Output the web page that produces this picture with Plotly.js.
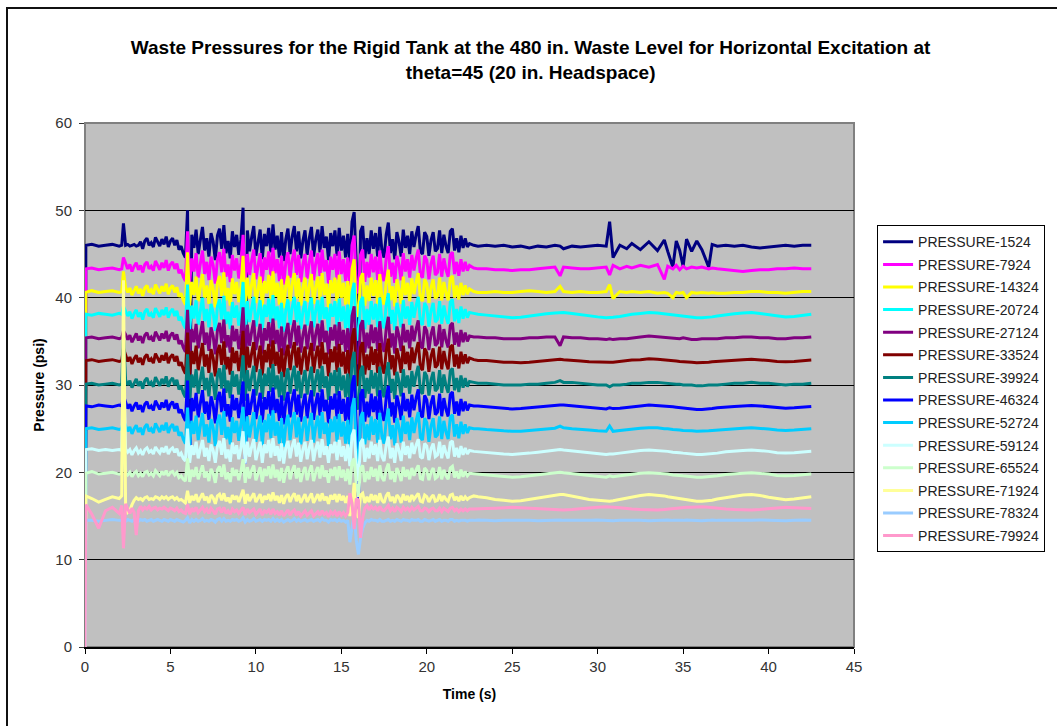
<!DOCTYPE html>
<html>
<head>
<meta charset="utf-8">
<script src="https://cdn.plot.ly/plotly-3.0.1.min.js"></script>
<style>
html,body{margin:0;padding:0;background:#fff;}
#wrap{position:relative;width:1057px;height:726px;overflow:hidden;}
#chart{position:absolute;left:0;top:0;width:1057px;height:726px;}
#frame{position:absolute;left:6px;top:7px;width:1070px;height:740px;border-left:2px solid #111;border-top:2px solid #111;pointer-events:none;}
</style>
</head>
<body>
<div id="wrap"><div id="chart"></div><div id="frame"></div></div>
<script>
// Time (s)
const time = [
0, 0.05, 0.4, 0.8, 1.2, 1.6, 2.0, 2.15,
2.25, 2.375, 2.5, 2.625, 2.75, 2.875, 3, 3.125, 3.25, 3.375,
3.5, 3.625, 3.75, 3.875, 4, 4.125, 4.25, 4.375, 4.5, 4.625,
4.75, 4.875, 5, 5.125, 5.25, 5.375, 5.5, 5.625, 5.75, 5.875,
6, 6.125, 6.25, 6.375, 6.5, 6.625, 6.75, 6.875, 7, 7.125,
7.25, 7.375, 7.5, 7.625, 7.75, 7.875, 8, 8.125, 8.25, 8.375,
8.5, 8.625, 8.75, 8.875, 9, 9.125, 9.25, 9.375, 9.5, 9.625,
9.75, 9.875, 10, 10.125, 10.25, 10.375, 10.5, 10.625, 10.75, 10.875,
11, 11.125, 11.25, 11.375, 11.5, 11.625, 11.75, 11.875, 12, 12.125,
12.25, 12.375, 12.5, 12.625, 12.75, 12.875, 13, 13.125, 13.25, 13.375,
13.5, 13.625, 13.75, 13.875, 14, 14.125, 14.25, 14.375, 14.5, 14.625,
14.75, 14.875, 15, 15.125, 15.25, 15.375, 15.5, 15.625, 15.75, 15.875,
16, 16.125, 16.25, 16.375, 16.5, 16.625, 16.75, 16.875, 17, 17.125,
17.25, 17.375, 17.5, 17.625, 17.75, 17.875, 18, 18.125, 18.25, 18.375,
18.5, 18.625, 18.75, 18.875, 19, 19.125, 19.25, 19.375, 19.5, 19.625,
19.75, 19.875, 20, 20.125, 20.25, 20.375, 20.5, 20.625, 20.75, 20.875,
21, 21.125, 21.25, 21.375, 21.5, 21.625, 21.75, 21.875, 22, 22.125,
22.25, 22.375, 22.5,
22.75, 23, 23.5, 24, 24.5, 25, 25.5, 26, 26.5, 27,
27.5, 27.8, 28, 28.5, 29, 29.5, 30, 30.5, 30.7, 30.9,
31.3, 31.7, 32, 32.5, 33, 33.5, 33.9, 34.1, 34.4, 34.6,
34.8, 35, 35.2, 35.5, 35.8, 36.1, 36.5, 36.7, 37, 37.5,
38, 38.5, 39, 39.5, 40, 40.5, 41, 41.5, 42, 42.5
];

const p1524 = [
0, 46.0, 46.1, 45.9, 46.0, 46.1, 45.9, 46.0,
48.5, 46.0, 46.1, 45.9, 46.0, 46.1, 45.9, 46.0, 46.4, 45.6,
46.5, 46.8, 46.0, 46.3, 45.8, 46.9, 46.4, 45.9, 46.7, 46.1,
47.0, 45.8, 46.5, 46.8, 46.0, 46.6, 45.5, 45.9, 45.1, 44.6,
50.0, 27.0, 47.2, 45.7, 47.8, 45.0, 46.6, 48.1, 45.4, 46.8,
44.7, 47.4, 46.4, 44.3, 47.1, 47.9, 45.6, 48.3, 45.1, 46.5,
44.5, 47.6, 45.8, 47.2, 44.9, 46.7, 50.3, 28.5, 47.7, 45.3,
46.9, 48.2, 44.8, 46.4, 47.8, 44.4, 47.3, 45.9, 48.0, 45.2,
48.4, 45.5, 47.1, 44.6, 47.5, 44.2, 46.7, 47.9, 45.0, 47.0,
48.2, 45.3, 47.6, 44.5, 46.5, 47.7, 44.9, 46.8, 48.1, 44.7,
46.6, 47.8, 45.2, 48.2, 45.7, 47.0, 44.3, 47.4, 45.9, 47.7,
44.8, 48.0, 45.4, 47.1, 44.6, 47.3, 43.8, 48.7, 49.8, 44.0,
30.0, 47.6, 48.2, 44.5, 46.8, 45.0, 47.7, 45.6, 47.4, 44.7,
48.1, 45.4, 44.6, 47.2, 48.6, 45.1, 46.7, 44.4, 47.5, 46.4,
44.7, 47.8, 45.7, 47.1, 45.0, 47.6, 45.8, 47.2, 48.2, 45.3,
45.0, 47.5, 47.0, 44.8, 46.6, 47.5, 45.3, 45.6, 47.7, 45.1,
47.2, 45.9, 45.1, 47.6, 47.9, 45.4, 46.8, 45.2, 47.1, 45.7,
46.8, 45.8, 46.2,
46.0, 45.9, 46.0, 45.9, 46.0, 45.8, 45.9, 45.7, 45.9, 45.8,
46.0, 45.9, 45.6, 45.9, 45.8, 45.9, 46.0, 45.9, 48.7, 44.6,
46.0, 45.6, 46.2, 45.5, 46.4, 45.4, 46.6, 45.3, 43.5, 46.5,
45.4, 43.6, 46.7, 45.3, 46.5, 45.5, 43.5, 46.1, 45.9, 46.0,
45.9, 46.0, 45.8, 45.7, 45.8, 45.9, 46.0, 45.9, 46.0, 46.0
];

const p7924 = [
0, 43.3, 43.4, 43.2, 43.3, 43.4, 43.2, 43.3,
44.6, 43.9, 43.3, 43.8, 43.0, 43.6, 44.0, 43.2, 43.7, 42.9,
43.8, 44.1, 43.3, 43.6, 43.1, 44.2, 43.7, 43.2, 44.0, 43.4,
44.3, 43.1, 43.8, 44.1, 43.3, 43.9, 42.8, 43.2, 42.4, 41.9,
47.6, 41.7, 44.5, 43.0, 45.1, 42.3, 43.9, 45.4, 42.7, 44.1,
42.0, 44.7, 43.7, 41.6, 44.4, 45.2, 42.9, 45.6, 42.4, 43.8,
41.8, 44.9, 43.1, 44.5, 42.2, 44.0, 47.2, 41.5, 45.0, 42.6,
44.2, 45.5, 42.1, 43.7, 45.1, 41.7, 44.6, 43.2, 45.3, 42.5,
45.7, 42.8, 44.4, 41.9, 44.8, 41.5, 44.0, 45.2, 42.3, 44.3,
45.5, 42.6, 44.9, 41.8, 43.8, 45.0, 42.2, 44.1, 45.4, 42.0,
43.9, 45.1, 42.5, 45.5, 43.0, 44.3, 41.6, 44.7, 43.2, 45.0,
42.1, 45.3, 42.7, 44.4, 41.9, 44.6, 41.1, 46.0, 47.1, 41.3,
40.5, 44.9, 45.5, 41.8, 44.1, 42.3, 45.0, 42.9, 44.7, 42.0,
45.4, 42.7, 41.9, 44.5, 45.9, 42.4, 44.0, 41.7, 44.8, 43.7,
42.0, 45.1, 43.0, 44.4, 42.3, 44.9, 43.1, 44.5, 45.5, 42.6,
42.3, 44.8, 44.3, 42.1, 43.9, 44.8, 42.6, 42.9, 45.0, 42.4,
44.5, 43.2, 42.4, 44.9, 45.2, 42.7, 44.1, 42.5, 44.4, 43.0,
44.1, 43.1, 43.7,
43.4, 43.3, 43.3, 43.2, 43.2, 43.1, 43.2, 43.2, 43.3, 43.4,
43.5, 42.5, 43.5, 43.4, 43.3, 43.3, 43.4, 43.5, 42.6, 43.7,
43.3, 43.6, 43.4, 43.7, 43.5, 43.8, 42.1, 43.6, 43.3, 43.7,
43.2, 43.6, 43.3, 43.5, 43.4, 43.5, 43.3, 43.4, 43.3, 43.2,
43.1, 43.0, 43.1, 43.2, 43.2, 43.3, 43.3, 43.4, 43.3, 43.3
];

const p14324 = [
0, 40.6, 40.8, 40.6, 40.7, 40.8, 40.6, 40.7,
43.0, 41.2, 40.6, 41.1, 40.3, 40.9, 41.3, 40.5, 41.0, 40.2,
41.1, 41.4, 40.6, 40.9, 40.4, 41.5, 41.0, 40.5, 41.3, 40.7,
41.6, 40.4, 41.1, 41.4, 40.6, 41.2, 40.1, 40.5, 39.7, 39.2,
45.2, 39.0, 41.8, 40.3, 42.4, 39.6, 41.2, 42.7, 40.0, 41.4,
39.3, 42.0, 41.0, 38.9, 41.7, 42.5, 40.2, 42.9, 39.7, 41.1,
39.1, 42.2, 40.4, 41.8, 39.5, 41.3, 44.8, 38.8, 42.3, 39.9,
41.5, 42.8, 39.4, 41.0, 42.4, 39.0, 41.9, 40.5, 42.6, 39.8,
43.0, 40.1, 41.7, 39.2, 42.1, 38.8, 41.3, 42.5, 39.6, 41.6,
42.8, 39.9, 42.2, 39.1, 41.1, 42.3, 39.5, 41.4, 42.7, 39.3,
41.2, 42.4, 39.8, 42.8, 40.3, 41.6, 38.9, 42.0, 40.5, 42.3,
39.4, 42.6, 40.0, 41.7, 39.2, 41.9, 38.4, 43.3, 44.4, 38.6,
37.8, 42.2, 42.8, 39.1, 41.4, 39.6, 42.3, 40.2, 42.0, 39.3,
42.7, 40.0, 39.2, 41.8, 43.2, 39.7, 41.3, 39.0, 42.1, 41.0,
39.3, 42.4, 40.3, 41.7, 39.6, 42.2, 40.4, 41.8, 42.8, 39.9,
39.6, 42.1, 41.6, 39.4, 41.2, 42.1, 39.9, 40.2, 42.3, 39.7,
41.8, 40.5, 39.7, 42.2, 42.5, 40.0, 41.4, 39.8, 41.7, 40.3,
41.4, 40.4, 41.0,
40.7, 40.6, 40.6, 40.7, 40.6, 40.6, 40.7, 40.8, 40.7, 40.6,
40.7, 41.3, 40.7, 40.6, 40.7, 40.6, 40.6, 40.7, 41.5, 39.9,
40.7, 40.6, 40.7, 40.6, 40.7, 40.5, 40.6, 40.5, 40.0, 40.6,
40.5, 40.6, 40.0, 40.6, 40.5, 40.6, 40.5, 40.6, 40.5, 40.5,
40.6, 40.6, 40.7, 40.7, 40.6, 40.6, 40.5, 40.6, 40.7, 40.7
];

const p20724 = [
0, 38.1, 38.0, 38.2, 38.1, 38.0, 38.2, 38.1,
39.0, 38.5, 37.9, 38.4, 37.6, 38.2, 38.6, 37.8, 38.3, 37.5,
38.4, 38.7, 37.9, 38.2, 37.7, 38.8, 38.3, 37.8, 38.6, 38.0,
38.9, 37.7, 38.4, 38.7, 37.9, 38.5, 37.4, 37.8, 37.0, 36.5,
41.5, 36.3, 39.1, 37.6, 39.7, 36.9, 38.5, 40.0, 37.3, 38.7,
36.6, 39.3, 38.3, 36.2, 39.0, 39.8, 37.5, 40.2, 37.0, 38.4,
36.4, 39.5, 37.7, 39.1, 36.8, 38.6, 41.8, 36.1, 39.6, 37.2,
38.8, 40.1, 36.7, 38.3, 39.7, 36.3, 39.2, 37.8, 39.9, 37.1,
40.3, 37.4, 39.0, 36.5, 39.4, 36.1, 38.6, 39.8, 36.9, 38.9,
40.1, 37.2, 39.5, 36.4, 38.4, 39.6, 36.8, 38.7, 40.0, 36.6,
38.5, 39.7, 37.1, 40.1, 37.6, 38.9, 36.2, 39.3, 37.8, 39.6,
36.7, 39.9, 37.3, 39.0, 36.5, 39.2, 35.7, 40.6, 41.7, 35.9,
35.1, 39.5, 40.1, 36.4, 38.7, 36.9, 39.6, 37.5, 39.3, 36.6,
40.0, 37.3, 36.5, 39.1, 40.5, 37.0, 38.6, 36.3, 39.4, 38.3,
36.6, 39.7, 37.6, 39.0, 36.9, 39.5, 37.7, 39.1, 40.1, 37.2,
36.9, 39.4, 38.9, 36.7, 38.5, 39.4, 37.2, 37.5, 39.6, 37.0,
39.1, 37.8, 37.0, 39.5, 39.8, 37.3, 38.7, 37.1, 39.0, 37.6,
38.7, 37.7, 38.3,
38.2, 38.1, 38.0, 37.9, 37.8, 37.7, 37.75, 37.9, 38.05, 38.15,
38.25, 38.3, 38.3, 38.2, 38.05, 37.9, 37.8, 37.7, 37.7, 37.75,
37.85, 38.0, 38.1, 38.2, 38.3, 38.25, 38.15, 38.1, 38.0, 37.95,
37.9, 37.85, 37.8, 37.75, 37.7, 37.7, 37.75, 37.8, 37.9, 38.05,
38.15, 38.25, 38.3, 38.2, 38.05, 37.9, 37.8, 37.85, 38.0, 38.1
];

const p27124 = [
0, 35.4, 35.5, 35.3, 35.4, 35.5, 35.3, 35.4,
36.2, 35.8, 35.2, 35.7, 34.9, 35.5, 35.9, 35.1, 35.6, 34.8,
35.7, 36.0, 35.2, 35.5, 35.0, 36.1, 35.6, 35.1, 35.9, 35.3,
36.2, 35.0, 35.7, 36.0, 35.2, 35.8, 34.7, 35.1, 34.3, 33.8,
38.6, 33.6, 36.4, 34.9, 37.0, 34.2, 35.8, 37.3, 34.6, 36.0,
33.9, 36.6, 35.6, 33.5, 36.3, 37.1, 34.8, 37.5, 34.3, 35.7,
33.7, 36.8, 35.0, 36.4, 34.1, 35.9, 38.9, 33.4, 36.9, 34.5,
36.1, 37.4, 34.0, 35.6, 37.0, 33.6, 36.5, 35.1, 37.2, 34.4,
37.6, 34.7, 36.3, 33.8, 36.7, 33.4, 35.9, 37.1, 34.2, 36.2,
37.4, 34.5, 36.8, 33.7, 35.7, 36.9, 34.1, 36.0, 37.3, 33.9,
35.8, 37.0, 34.4, 37.4, 34.9, 36.2, 33.5, 36.6, 35.1, 36.9,
34.0, 37.2, 34.6, 36.3, 33.8, 36.5, 33.0, 37.9, 39.0, 33.2,
32.4, 36.8, 37.4, 33.7, 36.0, 34.2, 36.9, 34.8, 36.6, 33.9,
37.3, 34.6, 33.8, 36.4, 37.8, 34.3, 35.9, 33.6, 36.7, 35.6,
33.9, 37.0, 34.9, 36.3, 34.2, 36.8, 35.0, 36.4, 37.4, 34.5,
34.2, 36.7, 36.2, 34.0, 35.8, 36.7, 34.5, 34.8, 36.9, 34.3,
36.4, 35.1, 34.3, 36.8, 37.1, 34.6, 36.0, 34.4, 36.3, 34.9,
36.0, 35.0, 35.6,
35.5, 35.5, 35.4, 35.4, 35.3, 35.3, 35.3, 35.4, 35.4, 35.5,
35.5, 34.5, 35.5, 35.4, 35.4, 35.3, 35.3, 35.2, 35.3, 35.2,
35.3, 35.3, 35.4, 35.5, 35.6, 35.5, 35.5, 35.4, 35.4, 35.3,
35.3, 35.4, 35.3, 35.2, 35.2, 35.3, 35.3, 35.3, 35.3, 35.4,
35.4, 35.5, 35.5, 35.4, 35.4, 35.3, 35.3, 35.4, 35.4, 35.5
];

const p33524 = [
0, 32.8, 32.9, 32.7, 32.8, 32.9, 32.7, 32.8,
34.2, 33.3, 32.7, 33.2, 32.4, 33.0, 33.4, 32.6, 33.1, 32.3,
33.2, 33.5, 32.7, 33.0, 32.5, 33.6, 33.1, 32.6, 33.4, 32.8,
33.7, 32.5, 33.2, 33.5, 32.7, 33.3, 32.2, 32.6, 31.8, 31.3,
36.0, 31.1, 33.9, 32.4, 34.5, 31.7, 33.3, 34.8, 32.1, 33.5,
31.4, 34.1, 33.1, 31.0, 33.8, 34.6, 32.3, 35.0, 31.8, 33.2,
31.2, 34.3, 32.5, 33.9, 31.6, 33.4, 36.2, 30.9, 34.4, 32.0,
33.6, 34.9, 31.5, 33.1, 34.5, 31.1, 34.0, 32.6, 34.7, 31.9,
35.1, 32.2, 33.8, 31.3, 34.2, 30.9, 33.4, 34.6, 31.7, 33.7,
34.9, 32.0, 34.3, 31.2, 33.2, 34.4, 31.6, 33.5, 34.8, 31.4,
33.3, 34.5, 31.9, 34.9, 32.4, 33.7, 31.0, 34.1, 32.6, 34.4,
31.5, 34.7, 32.1, 33.8, 31.3, 34.0, 30.5, 35.4, 36.5, 30.7,
29.9, 34.3, 34.9, 31.2, 33.5, 31.7, 34.4, 32.3, 34.1, 31.4,
34.8, 32.1, 31.3, 33.9, 35.3, 31.8, 33.4, 31.1, 34.2, 33.1,
31.4, 34.5, 32.4, 33.8, 31.7, 34.3, 32.5, 33.9, 34.9, 32.0,
31.7, 34.2, 33.7, 31.5, 33.3, 34.2, 32.0, 32.3, 34.4, 31.8,
33.9, 32.6, 31.8, 34.3, 34.6, 32.1, 33.5, 31.9, 33.8, 32.4,
33.5, 32.5, 33.1,
32.9, 32.8, 32.8, 32.7, 32.6, 32.6, 32.55, 32.6, 32.7, 32.8,
32.9, 32.95, 32.9, 32.85, 32.75, 32.65, 32.6, 32.55, 32.6, 32.6,
32.7, 32.8, 32.85, 32.9, 33.0, 32.95, 32.9, 32.85, 32.8, 32.75,
32.7, 32.65, 32.6, 32.6, 32.55, 32.55, 32.6, 32.65, 32.7, 32.8,
32.85, 32.9, 32.95, 32.9, 32.8, 32.7, 32.65, 32.7, 32.8, 32.85
];

const p39924 = [
0, 30.1, 30.2, 30.0, 30.1, 30.2, 30.0, 30.1,
35.8, 30.6, 30.0, 30.5, 29.7, 30.3, 30.7, 29.9, 30.4, 29.6,
30.5, 30.8, 30.0, 30.3, 29.8, 30.9, 30.4, 29.9, 30.7, 30.1,
31.0, 29.8, 30.5, 30.8, 30.0, 30.6, 29.5, 29.9, 29.1, 28.6,
33.5, 28.4, 31.2, 29.7, 31.8, 29.0, 30.6, 32.1, 29.4, 30.8,
28.7, 31.4, 30.4, 28.3, 31.1, 31.9, 29.6, 32.3, 29.1, 30.5,
28.5, 31.6, 29.8, 31.2, 28.9, 30.7, 33.4, 28.2, 31.7, 29.3,
30.9, 32.2, 28.8, 30.4, 31.8, 28.4, 31.3, 29.9, 32.0, 29.2,
32.4, 29.5, 31.1, 28.6, 31.5, 28.2, 30.7, 31.9, 29.0, 31.0,
32.2, 29.3, 31.6, 28.5, 30.5, 31.7, 28.9, 30.8, 32.1, 28.7,
30.6, 31.8, 29.2, 32.2, 29.7, 31.0, 28.3, 31.4, 29.9, 31.7,
28.8, 32.0, 29.4, 31.1, 28.6, 31.3, 27.8, 32.7, 33.8, 28.0,
27.2, 31.6, 32.2, 28.5, 30.8, 29.0, 31.7, 29.6, 31.4, 28.7,
32.1, 29.4, 28.6, 31.2, 32.6, 29.1, 30.7, 28.4, 31.5, 30.4,
28.7, 31.8, 29.7, 31.1, 29.0, 31.6, 29.8, 31.2, 32.2, 29.3,
29.0, 31.5, 31.0, 28.8, 30.6, 31.5, 29.3, 29.6, 31.7, 29.1,
31.2, 29.9, 29.1, 31.6, 31.9, 29.4, 30.8, 29.2, 31.1, 29.7,
30.8, 29.8, 30.4,
30.3, 30.2, 30.2, 30.1, 30.0, 30.0, 30.0, 30.1, 30.1, 30.2,
30.3, 30.5, 30.3, 30.3, 30.2, 30.1, 30.0, 30.0, 29.8, 30.0,
30.0, 30.1, 30.2, 30.2, 30.3, 30.3, 30.2, 30.2, 30.1, 30.1,
30.1, 30.0, 30.0, 30.0, 29.9, 29.9, 30.0, 30.0, 30.0, 30.1,
30.2, 30.2, 30.3, 30.2, 30.2, 30.1, 30.0, 30.1, 30.1, 30.2
];

const p46324 = [
0, 27.6, 27.5, 27.7, 27.6, 27.5, 27.7, 27.6,
28.8, 27.9, 27.3, 27.8, 27.0, 27.6, 28.0, 27.2, 27.7, 26.9,
27.8, 28.1, 27.3, 27.6, 27.1, 28.2, 27.7, 27.2, 28.0, 27.4,
28.3, 27.1, 27.8, 28.1, 27.3, 27.9, 26.8, 27.2, 26.4, 25.9,
30.5, 22.0, 28.5, 27.0, 29.1, 26.3, 27.9, 29.4, 26.7, 28.1,
26.0, 28.7, 27.7, 25.6, 28.4, 29.2, 26.9, 29.6, 26.4, 27.8,
25.8, 28.9, 27.1, 28.5, 26.2, 28.0, 30.4, 21.0, 29.0, 26.6,
28.2, 29.5, 26.1, 27.7, 29.1, 25.7, 28.6, 27.2, 29.3, 26.5,
29.7, 26.8, 28.4, 25.9, 28.8, 25.5, 28.0, 29.2, 26.3, 28.3,
29.5, 26.6, 28.9, 25.8, 27.8, 29.0, 26.2, 28.1, 29.4, 26.0,
27.9, 29.1, 26.5, 29.5, 27.0, 28.3, 25.6, 28.7, 27.2, 29.0,
26.1, 29.3, 26.7, 28.4, 25.9, 28.6, 25.1, 30.0, 31.1, 25.3,
15.5, 28.9, 29.5, 25.8, 28.1, 26.3, 29.0, 26.9, 28.7, 26.0,
29.4, 26.7, 25.9, 28.5, 29.9, 26.4, 28.0, 25.7, 28.8, 27.7,
26.0, 29.1, 27.0, 28.4, 26.3, 28.9, 27.1, 28.5, 29.5, 26.6,
26.3, 28.8, 28.3, 26.1, 27.9, 28.8, 26.6, 26.9, 29.0, 26.4,
28.5, 27.2, 26.4, 28.9, 29.2, 26.7, 28.1, 26.5, 28.4, 27.0,
28.1, 27.1, 27.7,
27.6, 27.6, 27.5, 27.4, 27.3, 27.25, 27.3, 27.4, 27.5, 27.6,
27.65, 27.7, 27.7, 27.6, 27.5, 27.4, 27.3, 27.25, 27.4, 27.3,
27.35, 27.45, 27.55, 27.6, 27.7, 27.65, 27.6, 27.55, 27.5, 27.45,
27.4, 27.35, 27.3, 27.25, 27.2, 27.2, 27.25, 27.3, 27.4, 27.5,
27.55, 27.6, 27.65, 27.6, 27.5, 27.4, 27.35, 27.4, 27.5, 27.55
];

const p52724 = [
0, 25.0, 25.1, 24.9, 25.0, 25.1, 24.9, 25.0,
26.0, 25.3, 24.7, 25.2, 24.4, 25.0, 25.4, 24.6, 25.1, 24.3,
25.2, 25.5, 24.7, 25.0, 24.5, 25.6, 25.1, 24.6, 25.4, 24.8,
25.7, 24.5, 25.2, 25.5, 24.7, 25.3, 24.2, 24.6, 23.8, 23.3,
27.4, 23.1, 25.9, 24.4, 26.5, 23.7, 25.3, 26.8, 24.1, 25.5,
23.4, 26.1, 25.1, 23.0, 25.8, 26.6, 24.3, 27.0, 23.8, 25.2,
23.2, 26.3, 24.5, 25.9, 23.6, 25.4, 27.5, 22.9, 26.4, 24.0,
25.6, 26.9, 23.5, 25.1, 26.5, 23.1, 26.0, 24.6, 26.7, 23.9,
27.1, 24.2, 25.8, 23.3, 26.2, 22.9, 25.4, 26.6, 23.7, 25.7,
26.9, 24.0, 26.3, 23.2, 25.2, 26.4, 23.6, 25.5, 26.8, 23.4,
25.3, 26.5, 23.9, 26.9, 24.4, 25.7, 23.0, 26.1, 24.6, 26.4,
23.5, 26.7, 24.1, 25.8, 23.3, 26.0, 22.5, 27.4, 28.5, 22.7,
19.5, 26.3, 26.9, 23.2, 25.5, 23.7, 26.4, 24.3, 26.1, 23.4,
26.8, 24.1, 23.3, 25.9, 27.3, 23.8, 25.4, 23.1, 26.2, 25.1,
23.4, 26.5, 24.4, 25.8, 23.7, 26.3, 24.5, 25.9, 26.9, 24.0,
23.7, 26.2, 25.7, 23.5, 25.3, 26.2, 24.0, 24.3, 26.4, 23.8,
25.9, 24.6, 23.8, 26.3, 26.6, 24.1, 25.5, 23.9, 25.8, 24.4,
25.5, 24.5, 25.1,
25.0, 25.0, 24.9, 24.8, 24.75, 24.7, 24.7, 24.8, 24.9, 25.0,
25.05, 25.3, 25.1, 25.0, 24.95, 24.85, 24.75, 24.7, 25.3, 24.7,
24.8, 24.9, 24.95, 25.05, 25.1, 25.1, 25.0, 25.0, 24.9, 24.9,
24.85, 24.8, 24.8, 24.75, 24.7, 24.7, 24.75, 24.8, 24.85, 24.95,
25.0, 25.05, 25.1, 25.05, 24.95, 24.85, 24.8, 24.85, 24.9, 25.0
];

const p59124 = [
0, 22.6, 22.7, 22.5, 22.6, 22.5, 22.6, 22.5,
33.0, 22.7, 22.3, 22.6, 22.0, 22.5, 22.8, 22.2, 22.5, 22.0,
22.6, 22.8, 22.3, 22.5, 22.1, 22.9, 22.5, 22.2, 22.8, 22.3,
23.0, 22.1, 22.6, 22.8, 22.3, 22.7, 21.9, 22.2, 21.6, 21.3,
25.0, 21.1, 23.1, 22.0, 23.5, 21.6, 22.7, 23.7, 21.8, 22.8,
21.3, 23.2, 22.5, 21.1, 23.0, 23.6, 22.0, 23.9, 21.6, 22.6,
21.2, 23.4, 22.1, 23.1, 21.5, 22.8, 24.7, 21.0, 23.5, 21.8,
22.9, 23.8, 21.4, 22.5, 23.5, 21.1, 23.2, 22.2, 23.7, 21.7,
23.9, 21.9, 23.0, 21.3, 23.3, 21.0, 22.8, 23.6, 21.6, 23.0,
23.8, 21.8, 23.4, 21.2, 22.6, 23.5, 21.5, 22.8, 23.7, 21.3,
22.7, 23.5, 21.7, 23.8, 22.0, 23.0, 21.1, 23.2, 22.2, 23.5,
21.4, 23.7, 21.8, 23.0, 21.3, 23.2, 20.7, 24.2, 24.9, 20.9,
19.0, 23.4, 23.8, 21.2, 22.8, 21.6, 23.5, 22.0, 23.2, 21.3,
23.7, 21.8, 21.3, 23.1, 24.1, 21.6, 22.8, 21.1, 23.3, 22.5,
21.3, 23.5, 22.0, 23.0, 21.6, 23.4, 22.1, 23.1, 23.8, 21.8,
21.6, 23.3, 23.0, 21.4, 22.7, 23.3, 21.8, 22.0, 23.5, 21.6,
23.1, 22.2, 21.6, 23.4, 23.6, 21.8, 22.8, 21.7, 23.0, 22.0,
22.8, 22.1, 22.5,
22.4, 22.35, 22.3, 22.2, 22.1, 22.05, 22.1, 22.2, 22.3, 22.4,
22.5, 22.6, 22.55, 22.45, 22.3, 22.2, 22.1, 22.05, 22.1, 22.1,
22.2, 22.3, 22.4, 22.5, 22.55, 22.5, 22.45, 22.4, 22.3, 22.3,
22.25, 22.2, 22.15, 22.1, 22.05, 22.05, 22.1, 22.15, 22.2, 22.35,
22.45, 22.5, 22.55, 22.5, 22.4, 22.25, 22.2, 22.25, 22.35, 22.4
];

const p65524 = [
0, 19.9, 20.1, 19.8, 19.9, 20.0, 19.8, 19.9,
25.5, 20.0, 19.7, 20.0, 19.5, 19.9, 20.1, 19.6, 19.9, 19.5,
20.0, 20.1, 19.7, 19.9, 19.6, 20.2, 19.9, 19.6, 20.1, 19.7,
20.2, 19.6, 20.0, 20.1, 19.7, 20.0, 19.4, 19.6, 19.2, 19.0,
21.6, 18.9, 20.3, 19.5, 20.6, 19.2, 20.0, 20.8, 19.4, 20.1,
19.0, 20.4, 19.9, 18.8, 20.3, 20.7, 19.5, 20.9, 19.2, 20.0,
18.9, 20.5, 19.6, 20.3, 19.1, 20.1, 21.5, 18.8, 20.6, 19.3,
20.2, 20.8, 19.1, 19.9, 20.6, 18.9, 20.4, 19.6, 20.7, 19.3,
20.9, 19.4, 20.3, 19.0, 20.5, 18.8, 20.1, 20.7, 19.2, 20.2,
20.8, 19.3, 20.5, 18.9, 20.0, 20.6, 19.1, 20.1, 20.8, 19.0,
20.0, 20.6, 19.3, 20.8, 19.5, 20.2, 18.8, 20.4, 19.6, 20.6,
19.1, 20.7, 19.4, 20.3, 19.0, 20.4, 18.6, 21.1, 21.6, 18.7,
17.2, 20.5, 20.8, 18.9, 20.1, 19.2, 20.6, 19.5, 20.4, 19.0,
20.8, 19.4, 19.0, 20.3, 21.0, 19.2, 20.1, 18.9, 20.5, 19.9,
19.0, 20.6, 19.5, 20.3, 19.2, 20.5, 19.6, 20.3, 20.8, 19.3,
19.2, 20.5, 20.2, 19.1, 20.0, 20.5, 19.3, 19.5, 20.6, 19.2,
20.3, 19.6, 19.2, 20.5, 20.7, 19.4, 20.1, 19.3, 20.3, 19.5,
20.1, 19.6, 19.9,
19.85, 19.8, 19.7, 19.6, 19.5, 19.45, 19.5, 19.6, 19.7, 19.8,
19.9, 20.0, 19.95, 19.85, 19.7, 19.6, 19.5, 19.45, 19.6, 19.5,
19.6, 19.7, 19.8, 19.9, 19.95, 19.9, 19.85, 19.8, 19.7, 19.7,
19.65, 19.6, 19.55, 19.5, 19.45, 19.45, 19.5, 19.55, 19.6, 19.75,
19.85, 19.9, 19.95, 19.9, 19.8, 19.65, 19.6, 19.65, 19.75, 19.8
];

const p71924 = [
0, 17.3, 17.0, 16.6, 16.9, 17.2, 17.0, 17.3,
42.0, 16.2, 15.4, 15.6, 16.3, 16.8, 17.1, 16.9, 17.0, 16.8,
17.1, 17.2, 16.9, 17.0, 16.9, 17.2, 17.1, 16.9, 17.2, 17.0,
17.2, 16.9, 17.1, 17.2, 16.9, 17.1, 16.8, 16.9, 16.7, 16.5,
17.9, 16.5, 17.3, 16.8, 17.5, 16.6, 17.1, 17.6, 16.8, 17.2,
16.5, 17.4, 17.1, 16.4, 17.3, 17.5, 16.8, 17.6, 16.7, 17.1,
16.5, 17.4, 16.9, 17.3, 16.6, 17.2, 18.0, 16.4, 17.5, 16.7,
17.2, 17.6, 16.6, 17.1, 17.5, 16.5, 17.3, 16.9, 17.5, 16.7,
17.7, 16.8, 17.3, 16.5, 17.4, 16.4, 17.2, 17.5, 16.6, 17.2,
17.6, 16.7, 17.4, 16.5, 17.1, 17.5, 16.6, 17.2, 17.6, 16.5,
17.1, 17.5, 16.7, 17.6, 16.8, 17.2, 16.4, 17.4, 16.9, 17.5,
16.6, 17.5, 16.8, 17.3, 16.5, 17.3, 15.0, 16.0, 18.8, 15.5,
14.8, 17.4, 17.6, 16.5, 17.2, 16.6, 17.5, 16.8, 17.4, 16.5,
17.6, 16.8, 16.5, 17.3, 17.7, 16.7, 17.2, 16.5, 17.4, 17.1,
16.5, 17.5, 16.8, 17.3, 16.6, 17.4, 16.9, 17.3, 17.6, 16.7,
16.6, 17.4, 17.2, 16.6, 17.1, 17.4, 16.7, 16.8, 17.5, 16.7,
17.3, 16.9, 16.7, 17.4, 17.5, 16.8, 17.2, 16.7, 17.3, 16.8,
17.2, 16.9, 17.1,
17.3, 17.2, 17.1, 16.9, 16.8, 16.7, 16.75, 16.9, 17.1, 17.25,
17.4, 17.45, 17.45, 17.3, 17.1, 16.9, 16.8, 16.7, 16.7, 16.75,
16.9, 17.1, 17.2, 17.35, 17.45, 17.4, 17.3, 17.2, 17.1, 17.05,
17.0, 16.95, 16.9, 16.8, 16.7, 16.7, 16.75, 16.8, 16.95, 17.1,
17.25, 17.4, 17.45, 17.35, 17.15, 17.0, 16.85, 16.95, 17.1, 17.2
];

const p78324 = [
0, 14.5, 14.5, 14.4, 14.5, 14.6, 14.5, 14.5,
14.5, 14.4, 14.6, 14.5, 14.4, 14.6, 14.5, 14.4, 14.6, 14.5,
14.6, 14.4, 14.5, 14.6, 14.4, 14.5, 14.6, 14.5, 14.4, 14.6,
14.5, 14.4, 14.6, 14.5, 14.4, 14.6, 14.5, 14.4, 14.3, 14.5,
14.8, 14.2, 14.6, 14.4, 14.6, 14.4, 14.5, 14.7, 14.4, 14.5,
14.4, 14.6, 14.5, 14.3, 14.6, 14.7, 14.4, 14.7, 14.4, 14.5,
14.4, 14.6, 14.5, 14.6, 14.4, 14.5, 14.8, 14.3, 14.6, 14.4,
14.5, 14.7, 14.4, 14.5, 14.6, 14.4, 14.6, 14.5, 14.6, 14.4,
14.7, 14.4, 14.6, 14.4, 14.6, 14.3, 14.5, 14.6, 14.4, 14.5,
14.7, 14.4, 14.6, 14.4, 14.5, 14.6, 14.4, 14.5, 14.6, 14.4,
14.5, 14.6, 14.4, 14.7, 14.5, 14.5, 14.3, 14.6, 14.5, 14.6,
14.4, 14.6, 14.4, 14.5, 14.3, 14.5, 12.0, 13.5, 15.3, 12.2,
10.6, 12.5, 13.6, 14.2, 14.5, 14.4, 14.6, 14.5, 14.5, 14.4,
14.6, 14.4, 14.4, 14.5, 14.6, 14.4, 14.5, 14.4, 14.6, 14.5,
14.4, 14.6, 14.5, 14.5, 14.4, 14.6, 14.5, 14.5, 14.6, 14.4,
14.4, 14.6, 14.5, 14.4, 14.5, 14.6, 14.4, 14.5, 14.6, 14.4,
14.5, 14.5, 14.4, 14.6, 14.6, 14.4, 14.5, 14.4, 14.5, 14.5,
14.5, 14.4, 14.5,
14.5, 14.55, 14.5, 14.45, 14.5, 14.5, 14.55, 14.5, 14.45, 14.5,
14.5, 14.55, 14.5, 14.5, 14.45, 14.5, 14.55, 14.5, 14.5, 14.45,
14.5, 14.5, 14.55, 14.5, 14.45, 14.5, 14.5, 14.55, 14.5, 14.5,
14.45, 14.5, 14.55, 14.5, 14.5, 14.45, 14.5, 14.55, 14.5, 14.5,
14.45, 14.5, 14.5, 14.55, 14.5, 14.5, 14.45, 14.5, 14.55, 14.5
];

const p79924 = [
0, 16.3, 15.2, 13.6, 15.6, 16.0, 15.3, 16.2,
11.3, 16.4, 15.8, 15.3, 15.9, 15.4, 12.8, 15.6, 16.1, 15.7,
16.0, 15.8, 16.1, 15.7, 15.9, 16.0, 15.7, 15.9, 15.8, 16.0,
15.8, 15.6, 15.9, 15.8, 15.6, 15.9, 15.5, 15.7, 15.4, 15.3,
16.3, 15.2, 15.9, 15.5, 16.0, 15.4, 15.7, 16.0, 15.5, 15.8,
15.3, 15.9, 15.6, 15.2, 15.8, 15.9, 15.4, 16.0, 15.3, 15.6,
15.2, 15.8, 15.5, 15.7, 15.3, 15.6, 16.0, 15.1, 15.8, 15.4,
15.6, 15.8, 15.2, 15.5, 15.8, 15.1, 15.6, 15.4, 15.7, 15.2,
15.8, 15.3, 15.5, 15.1, 15.6, 15.0, 15.4, 15.7, 15.1, 15.5,
15.7, 15.1, 15.5, 15.0, 15.3, 15.6, 15.1, 15.4, 15.6, 15.0,
15.3, 15.5, 15.1, 15.6, 15.2, 15.4, 14.9, 15.5, 15.2, 15.5,
15.0, 15.5, 15.1, 15.4, 15.0, 15.4, 17.6, 16.5, 13.5, 17.0,
16.8, 12.5, 14.8, 15.9, 16.2, 15.7, 16.1, 15.8, 16.0, 15.6,
16.1, 15.7, 15.6, 15.9, 16.2, 15.6, 15.9, 15.5, 16.0, 15.8,
15.5, 16.0, 15.7, 15.9, 15.6, 16.0, 15.7, 15.9, 16.1, 15.6,
15.6, 15.9, 15.8, 15.5, 15.8, 15.9, 15.6, 15.6, 15.9, 15.5,
15.9, 15.7, 15.5, 15.9, 16.0, 15.6, 15.8, 15.5, 15.8, 15.6,
15.8, 15.6, 15.8,
15.8, 15.8, 15.85, 15.9, 15.95, 16.0, 15.95, 15.9, 15.85, 15.8,
15.75, 15.7, 15.7, 15.75, 15.85, 15.95, 16.0, 16.05, 16.05, 16.0,
15.95, 15.85, 15.8, 15.75, 15.7, 15.7, 15.75, 15.8, 15.85, 15.85,
15.9, 15.95, 16.0, 16.0, 16.05, 16.05, 16.0, 15.95, 15.9, 15.8,
15.75, 15.7, 15.7, 15.75, 15.85, 15.95, 16.0, 15.95, 15.9, 15.85
];

const seriesNames = [
'PRESSURE-1524','PRESSURE-7924','PRESSURE-14324','PRESSURE-20724',
'PRESSURE-27124','PRESSURE-33524','PRESSURE-39924','PRESSURE-46324',
'PRESSURE-52724','PRESSURE-59124','PRESSURE-65524','PRESSURE-71924',
'PRESSURE-78324','PRESSURE-79924'
];
const seriesValues = [p1524,p7924,p14324,p20724,p27124,p33524,p39924,p46324,p52724,p59124,p65524,p71924,p78324,p79924];
const seriesColors = ['#000080','#FF00FF','#FFFF00','#00FFFF','#800080','#800000','#008080','#0000FF','#00CCFF','#CCFFFF','#CCFFCC','#FFFF99','#99CCFF','#FF99CC'];

const FONT = '"Liberation Sans", Arial, Helvetica, sans-serif';

const traces = seriesNames.map((name, k) => ({
  type: 'scatter', mode: 'lines', name: name,
  x: time, y: seriesValues[k],
  line: {color: seriesColors[k], width: 3},
  legendgroup: 'g' + k,
  hoverinfo: 'skip'
}));

const layout = {
  width: 1057, height: 726,
  margin: {l: 85, r: 203, t: 123, b: 79, pad: 0},
  paper_bgcolor: '#FFFFFF',
  plot_bgcolor: '#C0C0C0',
  font: {family: FONT, color: '#000'},
  hovermode: false,
  title: {
    text: '<b>Waste Pressures for the Rigid Tank at the 480 in. Waste Level for Horizontal Excitation at<br>theta=45 (20 in. Headspace)</b>',
    font: {family: FONT, size: 19, color: '#000'},
    xref: 'container', x: 0.502, xanchor: 'center',
    yref: 'container', y: 0.925, yanchor: 'top'
  },
  xaxis: {
    range: [0, 45], tick0: 0, dtick: 5,
    ticks: 'outside', ticklen: 5, tickwidth: 1, tickcolor: '#000',
    showline: true, linecolor: '#000', linewidth: 2,
    showgrid: false, zeroline: false,
    tickfont: {family: FONT, size: 15, color: '#333'},
    title: {text: '<b>Time (s)</b>', font: {family: FONT, size: 14, color: '#000'}, standoff: 15},
    automargin: false
  },
  yaxis: {
    range: [0, 60], tick0: 0, dtick: 10,
    ticks: 'outside', ticklen: 5, tickwidth: 1, tickcolor: '#333',
    showline: true, linecolor: '#808080', linewidth: 1,
    showgrid: true, gridcolor: '#000', gridwidth: 1,
    zeroline: false,
    ticklabelstandoff: 4,
    tickfont: {family: FONT, size: 15, color: '#333'},
    title: {text: '<b>Pressure (psi)</b>', font: {family: FONT, size: 14, color: '#000'}, standoff: 7},
    automargin: false
  },
  shapes: [{
    type: 'rect', xref: 'paper', yref: 'paper', x0: 0, x1: 1, y0: 0, y1: 1,
    line: {color: '#808080', width: 2}, layer: 'below'
  }],
  legend: {
    x: 1.03, xanchor: 'left', y: 0.805, yanchor: 'top',
    bgcolor: '#FFFFFF', bordercolor: '#000', borderwidth: 1,
    font: {family: FONT, size: 14, color: '#222'},
    itemwidth: 30, tracegroupgap: 1.4, traceorder: 'grouped'
  },
  showlegend: true
};

Plotly.newPlot('chart', traces, layout, {displayModeBar: false, staticPlot: true});
</script>
</body>
</html>
